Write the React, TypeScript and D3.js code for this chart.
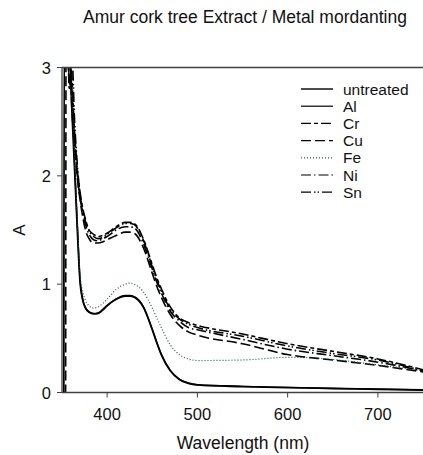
import React from "react";
import * as d3 from "d3";

const title = "Amur cork tree Extract / Metal mordanting";
const xLabel = "Wavelength (nm)";
const yLabel = "A";
const xTicks = [400, 500, 600, 700];
const yTicks = [0, 1, 2, 3];

const wavelengths = [352, 352.5, 354, 354.5, 356, 358, 361, 364, 367, 370, 373, 376, 380, 385, 390, 395, 400, 410, 420, 425, 430, 440, 450, 455, 460, 470, 480, 490, 500, 550, 600, 650, 700, 750];

const untreated = [0.0, 3.5, 3.4, 3.3, 3.0, 3.2, 2.6, 2.05, 1.5, 1.02, 0.85, 0.78, 0.74, 0.725, 0.73, 0.76, 0.8, 0.86, 0.89, 0.89, 0.88, 0.79, 0.58, 0.46, 0.35, 0.2, 0.12, 0.085, 0.07, 0.055, 0.045, 0.037, 0.03, 0.023];
const al = [3.5, 3.5, 3.4, 3.3, 3.1, 2.9, 2.7, 2.1, 1.55, 1.04, 0.86, 0.785, 0.745, 0.73, 0.735, 0.765, 0.805, 0.865, 0.895, 0.895, 0.885, 0.795, 0.585, 0.465, 0.355, 0.205, 0.125, 0.088, 0.072, 0.057, 0.047, 0.038, 0.031, 0.024];
const cr = [3.5, 3.5, 3.4, 3.4, 3.2, 3.3, 2.9, 2.4, 2.05, 1.85, 1.7, 1.6, 1.5, 1.46, 1.44, 1.45, 1.47, 1.53, 1.57, 1.57, 1.56, 1.42, 1.18, 1.06, 0.96, 0.79, 0.69, 0.645, 0.62, 0.54, 0.45, 0.38, 0.31, 0.21];
const cu = [0.0, 0.0, 0.0, 3.5, 3.3, 3.1, 2.8, 2.3, 1.98, 1.78, 1.62, 1.5, 1.42, 1.38, 1.38, 1.39, 1.41, 1.45, 1.48, 1.48, 1.47, 1.34, 1.1, 0.98, 0.88, 0.72, 0.62, 0.56, 0.53, 0.45, 0.35, 0.3, 0.25, 0.19];
const fe = [3.5, 3.5, 3.4, 3.2, 3.3, 2.9, 2.7, 2.2, 1.6, 1.1, 0.93, 0.85, 0.8, 0.78, 0.79, 0.82, 0.86, 0.95, 1.0, 1.01, 1.0, 0.93, 0.78, 0.69, 0.6, 0.44, 0.35, 0.31, 0.295, 0.3, 0.325, 0.305, 0.255, 0.2];
const ni = [3.5, 3.5, 3.3, 3.5, 3.1, 3.4, 2.6, 2.35, 2.0, 1.8, 1.66, 1.55, 1.46, 1.41, 1.4, 1.42, 1.44, 1.5, 1.53, 1.53, 1.52, 1.38, 1.14, 1.02, 0.92, 0.75, 0.66, 0.6, 0.58, 0.49, 0.4, 0.34, 0.28, 0.2];
const sn = [3.5, 3.5, 3.5, 3.2, 3.4, 2.8, 3.1, 2.5, 2.1, 1.83, 1.68, 1.58, 1.49, 1.44, 1.42, 1.43, 1.46, 1.52, 1.56, 1.56, 1.55, 1.41, 1.16, 1.04, 0.94, 0.77, 0.68, 0.63, 0.6, 0.52, 0.43, 0.36, 0.3, 0.2];

const seriesNames = ["untreated", "Al", "Cr", "Cu", "Fe", "Ni", "Sn"];
const seriesValues = [untreated, al, cr, cu, fe, ni, sn];
const dashes = ["", "", "10,3,4,3", "10,4", "1,2", "10,3,1.5,3", "10,3,1.5,2,1.5,3"];
const widths = [1.8, 1.4, 1.6, 1.6, 1.2, 1.6, 1.6];
const colors = ["#000", "#000", "#000", "#000", "#2f4f4f", "#000", "#000"];

const W = 423;
const H = 455;
const M = { left: 62, right: 0, top: 67.5, bottom: 62.5 };

export default function App() {
  const x = d3.scaleLinear().domain([350, 750]).range([M.left, W - M.right]);
  const y = d3.scaleLinear().domain([0, 3]).range([H - M.bottom, M.top]);
  const line = d3
    .line<[number, number]>()
    .x((d) => x(d[0]))
    .y((d) => y(d[1]))
    .curve(d3.curveMonotoneX);
  const font = "'Liberation Sans', Arial, sans-serif";
  const axisColor = "#404040";
  const legendX0 = 301;
  const legendX1 = 333;
  const legendY0 = 89;
  const legendDy = 17.2;

  return (
    <svg
      width={W}
      height={H}
      style={{ position: "absolute", left: 0, top: 0, background: "#fff" }}
      fontFamily={font}
    >
      <defs>
        <clipPath id="plotClip">
          <rect x={M.left} y={M.top} width={W - M.left - M.right} height={H - M.top - M.bottom} />
        </clipPath>
      </defs>
      <text x={245} y={23} fontSize={17.5} textAnchor="middle" fill="#111">
        {title}
      </text>
      <g clipPath="url(#plotClip)">
        {seriesValues.map((vals, i) => (
          <path
            key={seriesNames[i]}
            d={line(wavelengths.map((w, j) => [w, vals[j]] as [number, number])) || ""}
            fill="none"
            stroke={colors[i]}
            strokeWidth={widths[i]}
            strokeDasharray={dashes[i] || undefined}
          />
        ))}
      </g>
      {/* axes */}
      <line x1={M.left} x2={M.left} y1={M.top} y2={y(0)} stroke={axisColor} strokeWidth={1.3} />
      <line x1={M.left} x2={W} y1={y(0)} y2={y(0)} stroke={axisColor} strokeWidth={1.3} />
      <line x1={M.left} x2={W} y1={M.top} y2={M.top} stroke={axisColor} strokeWidth={1.3} />
      {yTicks.map((t) => (
        <g key={"y" + t}>
          <line x1={M.left - 5} x2={M.left} y1={y(t)} y2={y(t)} stroke={axisColor} strokeWidth={1} />
          <text x={M.left - 11} y={y(t) + 6} fontSize={16.5} textAnchor="end" fill="#111">
            {t}
          </text>
        </g>
      ))}
      {xTicks.map((t) => (
        <g key={"x" + t}>
          <line x1={x(t)} x2={x(t)} y1={y(0)} y2={y(0) + 5} stroke={axisColor} strokeWidth={1} />
          <text x={x(t)} y={y(0) + 27} fontSize={16.5} textAnchor="middle" fill="#111">
            {t}
          </text>
        </g>
      ))}
      <text x={243} y={449} fontSize={17.5} textAnchor="middle" fill="#111">
        {xLabel}
      </text>
      <text
        transform={`translate(25, ${(M.top + y(0)) / 2}) rotate(-90)`}
        fontSize={17}
        textAnchor="middle"
        fill="#111"
      >
        {yLabel}
      </text>
      {/* legend */}
      {seriesNames.map((n, i) => {
        const ly = legendY0 + i * legendDy;
        return (
          <g key={"leg" + n}>
            <line
              x1={legendX0}
              x2={legendX1}
              y1={ly}
              y2={ly}
              stroke={colors[i]}
              strokeWidth={i === 0 ? 1.4 : 1.2}
              strokeDasharray={dashes[i] || undefined}
            />
            <text x={343} y={ly + 5.5} fontSize={15.5} fill="#111">
              {n}
            </text>
          </g>
        );
      })}
    </svg>
  );
}
